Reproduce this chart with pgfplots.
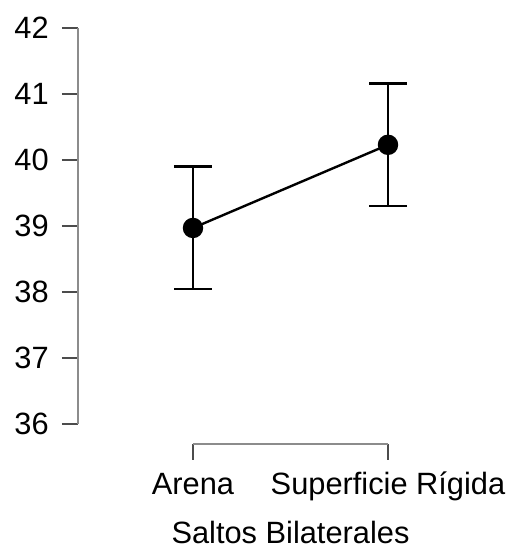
\documentclass[border=0pt]{standalone}
\usepackage{fontspec}
\setmainfont{Liberation Sans}
\usepackage{pgfplots}
\pgfplotsset{compat=1.18}
\begin{document}
\begin{tikzpicture}
\begin{axis}[
  scale only axis,
  x=195pt, y=66pt,
  xmin=0.41, xmax=2.61,
  ymin=35.697, ymax=42,
  axis lines=left,
  axis line style={draw=none,-},
  clip=false,
  xtick={1,2}, xticklabels={Arena, Superficie Rígida},
  ytick={36,37,38,39,40,41,42},
  tick align=outside,
  major tick length=16pt,
  tick style={black!70, line width=1.2pt},
  /pgf/number format/assume math mode=true,
  ticklabel style={font=\fontsize{30.8}{36}\selectfont},
  yticklabel style={inner sep=0pt, anchor=east, xshift=-13pt},
  xticklabel style={inner sep=0pt, anchor=base, yshift=-35pt},
  xlabel={Saltos Bilaterales},
  xlabel style={at={(axis cs:1.5,34.197)}, anchor=base, inner sep=0pt, font=\fontsize{30.8}{36}\selectfont},
]
\addplot[black, line width=2.4pt, mark=*, mark size=9pt,
  error bars/.cd, y dir=both, y explicit,
  error bar style={line width=2.2pt, black},
  error mark options={rotate=90, mark size=19pt, line width=2.2pt, black}]
  coordinates {(1,38.97) +- (0,0.93) (2,40.23) +- (0,0.93)};
\draw[black!45, line width=1.2pt] (axis cs:0.41,36) -- (axis cs:0.41,42);
\draw[black!45, line width=1.2pt] (axis cs:1,35.697) -- (axis cs:2,35.697);
\coordinate (bl) at (axis cs:0.0103,34.0);
\coordinate (tr) at (axis cs:2.61,42.424);
\end{axis}
\pgfresetboundingbox
\path[use as bounding box] (bl) rectangle (tr);
\end{tikzpicture}
\end{document}
